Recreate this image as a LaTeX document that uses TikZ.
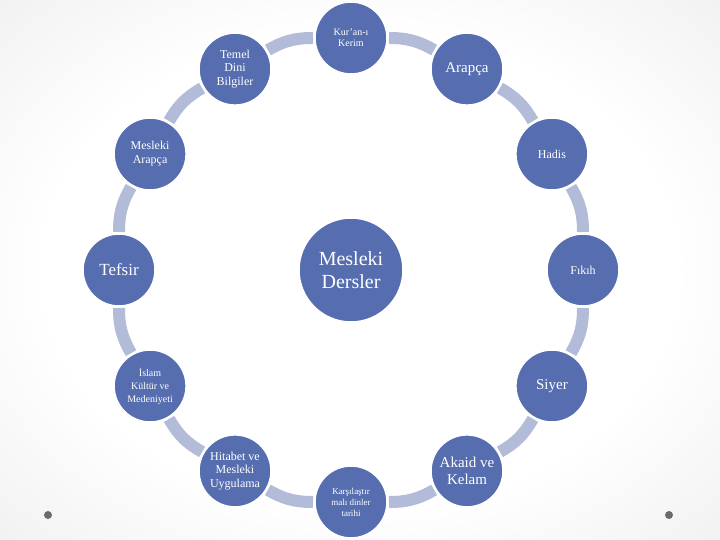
\documentclass[tikz,border=0pt]{standalone}
\usepackage{fontspec}
\setmainfont{Liberation Serif}
\usepackage{xcolor}
\usepackage{tikz}

\definecolor{dersblue}{RGB}{86,110,176}
\definecolor{halka}{RGB}{178,187,216}
\pgfdeclareradialshading{slidebg}{\pgfpoint{0bp}{0bp}}{color(0bp)=(white); color(22bp)=(white); color(50bp)=(black!11); color(72bp)=(black!19)}

\begin{document}
\begin{tikzpicture}[x=1pt, y=1pt,
    ders/.style={circle, fill=dersblue, draw=white, line width=1.5pt, minimum size=72pt, inner sep=0pt, outer sep=2pt, text=white, align=center},
    ana/.style={ders, minimum size=104pt},
    halkabag/.style={draw=halka, line width=12pt, bend right=15}]

                    % slide background
                    \shade[shading=slidebg] (-351, -270) rectangle (369, 270);
                    \useasboundingbox (-351, -270) rectangle (369, 270);

                    \fill[black!58] (-303, -245) circle (4);
                    \fill[black!58] (318, -245) circle (4);

                    \node[ana, font=\fontsize{20}{23}\selectfont] (dersler) at (0, 0) {Mesleki\\Dersler};

                    \node[ders, font=\fontsize{10}{11}\selectfont] (kuran) at (90:232) {Kur’an-ı\\Kerim};
                    \node[ders, font=\fontsize{15}{17}\selectfont] (arapca) at (60:232) {Arapça};
                    \node[ders, font=\fontsize{12}{13.5}\selectfont] (hadis) at (30:232) {Hadis};
                    \node[ders, font=\fontsize{12}{13.5}\selectfont] (fikih) at (0:232) {Fıkıh};
                    \node[ders, font=\fontsize{15}{17}\selectfont] (siyer) at (-30:232) {Siyer};
                    \node[ders, font=\fontsize{15}{17}\selectfont] (akaid) at (-60:232) {Akaid ve\\Kelam};
                    \node[ders, font=\fontsize{9}{11}\selectfont] (dinler) at (-90:232) {Karşılaştır\\malı dinler\\tarihi};
                    \node[ders, font=\fontsize{12}{13.3}\selectfont] (hitabet) at (-120:232) {Hitabet ve\\Mesleki\\Uygulama};
                    \node[ders, font=\fontsize{10}{13}\selectfont] (islam) at (-150:232) {İslam\\Kültür ve\\Medeniyeti};
                    \node[ders, font=\fontsize{17}{19}\selectfont] (tefsir) at (180:232) {Tefsir};
                    \node[ders, font=\fontsize{12}{14}\selectfont] (mesarapca) at (150:232) {Mesleki\\Arapça};
                    \node[ders, font=\fontsize{12}{13.3}\selectfont] (temel) at (120:232) {Temel\\Dini\\Bilgiler};

                    % ring links
                    \draw[halkabag] (kuran) to (temel);
                    \draw[halkabag] (temel) to (mesarapca);
                    \draw[halkabag] (mesarapca) to (tefsir);
                    \draw[halkabag] (tefsir) to (islam);
                    \draw[halkabag] (islam) to (hitabet);
                    \draw[halkabag] (hitabet) to (dinler);
                    \draw[halkabag] (dinler) to (akaid);
                    \draw[halkabag] (akaid) to (siyer);
                    \draw[halkabag] (siyer) to (fikih);
                    \draw[halkabag] (fikih) to (hadis);
                    \draw[halkabag] (hadis) to (arapca);
                    \draw[halkabag] (arapca) to (kuran);
                \end{tikzpicture}
\end{document}
